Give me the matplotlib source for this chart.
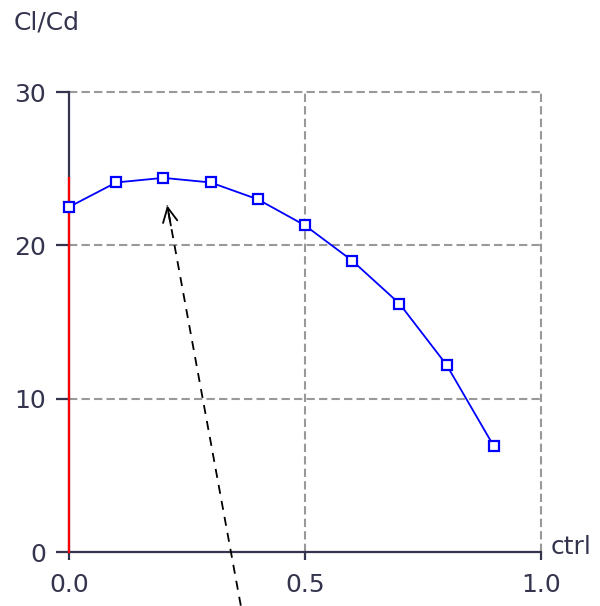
import matplotlib
matplotlib.use("Agg")
import matplotlib.pyplot as plt
import numpy as np

# data
ctrl = [0.0, 0.1, 0.2, 0.3, 0.4, 0.5, 0.6, 0.7, 0.8, 0.9]
cl_cd = [22.5, 24.1, 24.4, 24.1, 23.0, 21.3, 19.0, 16.2, 12.2, 6.9]
xticks = [0.0, 0.5, 1.0]
xtick_labels = ["0.0", "0.5", "1.0"]
yticks = [0, 10, 20, 30]
ytick_labels = ["0", "10", "20", "30"]
arrow_tail = (0.364, -3.5)
arrow_head = (0.208, 22.6)

ink = "#34344e"
fs = 18

fig = plt.figure(figsize=(6.0, 6.06), dpi=100)
ax = fig.add_axes([69 / 600, 54 / 606, 472 / 600, 460 / 606])

ax.set_xlim(0, 1.0)
ax.set_ylim(0, 30)

# grid
for x in xticks[1:]:
    ax.axvline(x, color="#999999", lw=1.5, ls=(0, (4, 2)), zorder=1, clip_on=False)
for y in yticks[1:]:
    ax.axhline(y, color="#999999", lw=1.5, ls=(0, (4, 2)), zorder=1, clip_on=False)

for side in ["top", "right"]:
    ax.spines[side].set_visible(False)
for side in ["left", "bottom"]:
    ax.spines[side].set_color(ink)
    ax.spines[side].set_linewidth(1.6)

ax.set_xticks(xticks)
ax.set_xticklabels(xtick_labels)
ax.set_yticks(yticks)
ax.set_yticklabels(ytick_labels)
ax.tick_params(axis="x", direction="out", length=6, width=1.6, color=ink,
               labelcolor=ink, labelsize=fs, pad=9)
ax.tick_params(axis="y", direction="out", length=9.5, width=1.6, color=ink,
               labelcolor=ink, labelsize=fs, pad=7)

# red marker line at ctrl = 0 up to the max
ax.plot([ctrl[0], ctrl[0]], [0, max(cl_cd)], color="red", lw=1.6, zorder=3,
        clip_on=False)

ax.plot(ctrl, cl_cd, color="blue", lw=1.3, marker="s", ms=6.5,
        mfc="white", mec="blue", mew=1.6, zorder=4, clip_on=False)

# dashed shaft + solid head
ax.plot([arrow_tail[0], arrow_head[0]], [arrow_tail[1], arrow_head[1]],
        color="black", lw=1.3, ls=(0, (5, 4)), clip_on=False, zorder=5)
near = (arrow_tail[0] + 0.95 * (arrow_head[0] - arrow_tail[0]),
        arrow_tail[1] + 0.95 * (arrow_head[1] - arrow_tail[1]))
ax.annotate("", xy=arrow_head, xytext=near,
            arrowprops=dict(arrowstyle="->", color="black", lw=1.3,
                            mutation_scale=26, shrinkA=0, shrinkB=0),
            annotation_clip=False, zorder=5)

fig.text(14 / 600, 1 - 22 / 606, "Cl/Cd", color=ink, fontsize=fs,
         ha="left", va="center")
fig.text(551 / 600, 1 - 547 / 606, "ctrl", color=ink, fontsize=fs,
         ha="left", va="center")

fig.savefig("out.png", dpi=100)
